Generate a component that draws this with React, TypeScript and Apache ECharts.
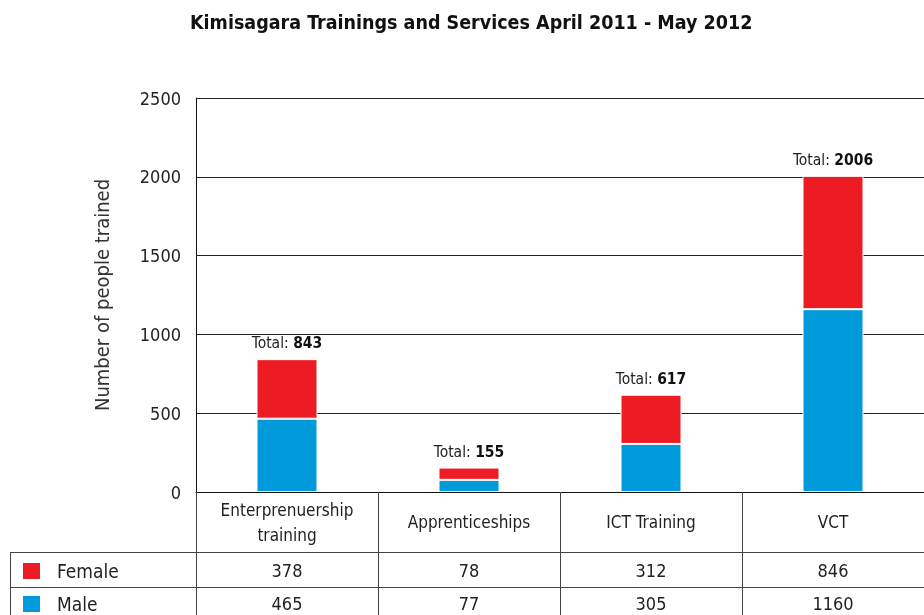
import React, { useEffect, useRef } from "react";
import * as echarts from "echarts";

const categories = ["Enterprenuership\ntraining", "Apprenticeships", "ICT Training", "VCT"];
const female = [378, 78, 312, 846];
const male = [465, 77, 305, 1160];
const seriesNames = ["Female", "Male"];
const yMin = 0;
const yMax = 2500;
const yInterval = 500;
const title = "Kimisagara Trainings and Services April 2011 - May 2012";
const yName = "Number of people trained";

const FONT = "'DejaVu Sans Condensed', 'Liberation Sans Narrow', 'Liberation Sans', sans-serif";
const RED = "#ED1C24";
const BLUE = "#009ADA";

export default function App() {
  const ref = useRef<HTMLDivElement>(null);
  useEffect(() => {
    if (!ref.current) return;
    const chart = echarts.init(ref.current, null, { renderer: "svg" });
    const tableLine = { stroke: "#444", lineWidth: 1 };
    chart.setOption({
      animation: false,
      textStyle: { fontFamily: FONT },
      title: {
        text: title,
        left: 185,
        top: 7,
        textStyle: { fontFamily: FONT, fontSize: 19.5, fontWeight: "bold", color: "#111" },
      },
      legend: {
        data: seriesNames,
        orient: "vertical",
        left: 21,
        top: 561,
        height: 60,
        padding: 0,
        itemWidth: 19,
        itemHeight: 18,
        itemGap: 13,
        icon: "rect",
        selectedMode: false,
        textStyle: { fontSize: 19, color: "#222", lineHeight: 18, padding: [0, 0, 0, 11] },
      },
      grid: { left: 196, right: 0, top: 98, bottom: 123, containLabel: false },
      xAxis: [
        {
          type: "category",
          data: categories,
          axisLine: { show: true, lineStyle: { color: "#111", width: 1 } },
          axisTick: { show: true, alignWithLabel: false, interval: 0, length: 123, lineStyle: { color: "#444" } },
          axisLabel: { interval: 0, fontSize: 17, color: "#222", margin: 30, verticalAlign: "middle", lineHeight: 25 },
        },
        {
          type: "category",
          data: categories,
          position: "bottom",
          axisLine: { show: false },
          axisTick: { show: false },
          axisLabel: {
            interval: 0,
            fontSize: 18,
            color: "#222",
            margin: 78,
            verticalAlign: "middle",
            formatter: (_v: string, i: number) => String(female[i]),
          },
        },
        {
          type: "category",
          data: categories,
          position: "bottom",
          axisLine: { show: false },
          axisTick: { show: false },
          axisLabel: {
            interval: 0,
            fontSize: 18,
            color: "#222",
            margin: 111,
            verticalAlign: "middle",
            formatter: (_v: string, i: number) => String(male[i]),
          },
        },
      ],
      yAxis: {
        type: "value",
        min: yMin,
        max: yMax,
        interval: yInterval,
        name: yName,
        nameLocation: "middle",
        nameGap: 84,
        nameTextStyle: { fontSize: 20, color: "#333" },
        axisLine: { show: true, lineStyle: { color: "#111", width: 1 } },
        axisTick: { show: false },
        axisLabel: { fontSize: 18, color: "#222", margin: 15, formatter: (v: number) => String(v) },
        splitLine: { show: true, lineStyle: { color: "#222", width: 1 } },
      },
      series: [
        {
          name: "Male",
          type: "bar",
          stack: "total",
          xAxisIndex: 0,
          data: male,
          barWidth: 61,
          itemStyle: { color: BLUE, borderColor: "#fff", borderWidth: 1 },
        },
        {
          name: "Female",
          type: "bar",
          stack: "total",
          xAxisIndex: 0,
          data: female,
          barWidth: 61,
          itemStyle: { color: RED, borderColor: "#fff", borderWidth: 1 },
          label: {
            show: true,
            position: "top",
            distance: 8,
            formatter: (p: any) => `{a|Total: }{b|${female[p.dataIndex] + male[p.dataIndex]}}`,
            rich: {
              a: { fontSize: 15.5, color: "#222", fontFamily: FONT },
              b: { fontSize: 15.5, color: "#111", fontWeight: "bold", fontFamily: FONT },
            },
          },
        },
      ],
      graphic: [
        { type: "line", shape: { x1: 10, y1: 552.5, x2: 924, y2: 552.5 }, style: tableLine },
        { type: "line", shape: { x1: 10, y1: 587.5, x2: 924, y2: 587.5 }, style: tableLine },
        { type: "line", shape: { x1: 10.5, y1: 552, x2: 10.5, y2: 615 }, style: tableLine },
      ],
    });
    return () => chart.dispose();
  }, []);
  return <div ref={ref} style={{ position: "fixed", left: 0, top: 0, width: 924, height: 615 }} />;
}
